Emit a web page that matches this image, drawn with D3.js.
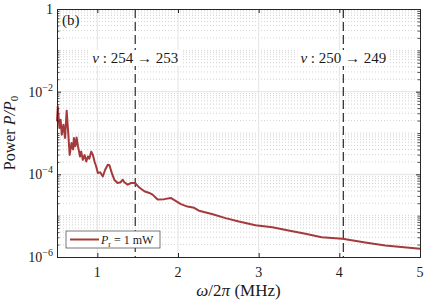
<!DOCTYPE html>
<html>
<head>
<meta charset="utf-8">
<script src="https://cdn.jsdelivr.net/npm/d3@7"></script>
<style>
  body { margin: 0; background: #fff; }
  text { font-family: "Liberation Serif", "DejaVu Serif", serif; fill: #1a1a1a; }
</style>
</head>
<body>
<div class="chart"></div>
<script>
var w = 427,
  h = 303,
  margin = {top: 9, right: 7, bottom: 46, left: 57},
  lineColor = '#a43a3b';

// frequency (MHz) and log10 of P/P0
var freq = [0.5, 0.51, 0.53, 0.545, 0.56, 0.58, 0.6, 0.62, 0.635, 0.657, 0.68, 0.70, 0.71, 0.727,
  0.743, 0.76, 0.785, 0.80, 0.82, 0.842, 0.863, 0.883, 0.9, 0.925, 0.945, 0.965, 0.986, 1.006,
  1.035, 1.068, 1.097, 1.13, 1.15, 1.18, 1.21, 1.25, 1.29, 1.315, 1.335, 1.377, 1.418, 1.468,
  1.52, 1.583, 1.645, 1.685, 1.747, 1.83, 1.91, 1.97, 2.036, 2.118, 2.2, 2.26, 2.42, 2.59,
  2.755, 2.96, 3.17, 3.37, 3.58, 3.78, 4.04, 4.32, 4.57, 5.0];
var logPower = [-2.72, -2.36, -2.88, -2.68, -3.04, -2.80, -3.12, -2.46, -2.88, -3.53, -3.24, -3.40, -3.12, -3.32,
  -3.11, -3.32, -3.57, -3.45, -3.65, -3.53, -3.69, -3.57, -3.62, -3.45, -3.53, -3.69, -3.81, -3.97,
  -3.95, -4.05, -3.89, -3.77, -3.78, -3.97, -4.13, -4.21, -4.19, -4.13, -4.19, -4.25, -4.21, -4.21,
  -4.32, -4.41, -4.45, -4.49, -4.61, -4.60, -4.57, -4.64, -4.72, -4.78, -4.81, -4.88, -4.96, -5.06,
  -5.14, -5.23, -5.28, -5.36, -5.44, -5.52, -5.56, -5.65, -5.72, -5.80];

var xTicks = [1, 2, 3, 4, 5];
var yTicks = [1e-6, 1e-4, 1e-2, 1];
var yTickExp = ['\u22126', '\u22124', '\u22122', ''];
var transitions = [
  {x: 1.47, from: 254, to: 253},
  {x: 4.05, from: 250, to: 249}
];

var iw = w - margin.left - margin.right,
  ih = h - margin.top - margin.bottom;

var x = d3.scaleLinear().domain([0.5, 5]).range([0, iw]);
var y = d3.scaleLog().domain([1e-6, 1]).range([ih, 0]);

var svg = d3.select('.chart').append('svg')
  .attr('width', w)
  .attr('height', h);

var g = svg.append('g').attr('transform', 'translate(' + margin.left + ',' + margin.top + ')');

// minor y values: k*10^n, not on major ticks
var minorY = [];
for (var n = -6; n < 0; n++) {
  for (var k = 1; k < 10; k++) {
    var v = k * Math.pow(10, n);
    if (!(k === 1 && n % 2 === 0)) minorY.push(v);
  }
}

// minor grid
g.append('g').selectAll('line')
  .data(minorY)
  .enter().append('line')
  .attr('x1', 0).attr('x2', iw)
  .attr('y1', function (d) { return y(d); })
  .attr('y2', function (d) { return y(d); })
  .attr('stroke', '#c8c8c8')
  .attr('stroke-width', 0.8)
  .attr('stroke-dasharray', '1,2');

// major grid
g.append('g').selectAll('line')
  .data(yTicks.slice(1, 3))
  .enter().append('line')
  .attr('x1', 0).attr('x2', iw)
  .attr('y1', function (d) { return y(d); })
  .attr('y2', function (d) { return y(d); })
  .attr('stroke', '#e4e4e4')
  .attr('stroke-width', 1);

g.append('g').selectAll('line')
  .data(xTicks.slice(0, 4))
  .enter().append('line')
  .attr('y1', 0).attr('y2', ih)
  .attr('x1', function (d) { return x(d); })
  .attr('x2', function (d) { return x(d); })
  .attr('stroke', '#e4e4e4')
  .attr('stroke-width', 1);

// dashed transition markers
g.append('g').selectAll('line')
  .data(transitions)
  .enter().append('line')
  .attr('y1', 0).attr('y2', ih)
  .attr('x1', function (d) { return x(d.x); })
  .attr('x2', function (d) { return x(d.x); })
  .attr('stroke', '#3a3a3a')
  .attr('stroke-width', 1.3)
  .attr('stroke-dasharray', '9,4');

// the curve
var pts = freq.map(function (f, i) { return [f, Math.pow(10, logPower[i])]; });
g.append('path')
  .datum(pts)
  .attr('fill', 'none')
  .attr('stroke', lineColor)
  .attr('stroke-width', 2)
  .attr('stroke-linejoin', 'round')
  .attr('d', d3.line()
    .x(function (d) { return x(d[0]); })
    .y(function (d) { return y(d[1]); }));

// axes with inward ticks
var axisColor = '#262626';
var ax = [
  d3.axisBottom(x).tickValues(xTicks).tickSize(-4).tickFormat(''),
  d3.axisTop(x).tickValues(xTicks).tickSize(-4).tickFormat(''),
  d3.axisLeft(y).tickValues(yTicks).tickSize(-4).tickFormat(''),
  d3.axisRight(y).tickValues(yTicks).tickSize(-4).tickFormat('')
];
var tr = ['translate(0,' + ih + ')', null, null, 'translate(' + iw + ',0)'];
ax.forEach(function (a, i) {
  var ag = g.append('g').attr('transform', tr[i]).call(a);
  ag.select('.domain').attr('stroke', axisColor);
  ag.selectAll('.tick line').attr('stroke', axisColor);
});
// minor ticks on y
[d3.axisLeft(y), d3.axisRight(y)].forEach(function (a, i) {
  var ag = g.append('g').attr('transform', i ? 'translate(' + iw + ',0)' : null)
    .call(a.tickValues(minorY).tickSize(-2.5).tickFormat(''));
  ag.select('.domain').remove();
  ag.selectAll('.tick line').attr('stroke', axisColor).attr('stroke-width', 0.8);
});

// tick labels
g.append('g').selectAll('text')
  .data(xTicks)
  .enter().append('text')
  .attr('x', function (d) { return x(d); })
  .attr('y', ih + 20)
  .attr('text-anchor', 'middle')
  .attr('font-size', 14)
  .text(function (d) { return d; });

var yl = g.append('g').selectAll('text')
  .data(yTicks)
  .enter().append('text')
  .attr('x', -4)
  .attr('y', function (d) { return y(d) + 5; })
  .attr('text-anchor', 'end')
  .attr('font-size', 14);
yl.append('tspan').text(function (d) { return d === 1 ? '1' : '10'; });
yl.append('tspan')
  .attr('dy', -6)
  .attr('font-size', 10)
  .text(function (d, i) { return yTickExp[i]; });

// axis labels
var xl = svg.append('text')
  .attr('x', margin.left + iw / 2)
  .attr('y', 296)
  .attr('text-anchor', 'middle')
  .attr('font-size', 17);
xl.append('tspan').attr('font-style', 'italic').text('\u03c9');
xl.append('tspan').text('/2');
xl.append('tspan').attr('font-style', 'italic').text('\u03c0');
xl.append('tspan').text(' (MHz)');

var ylab = svg.append('text')
  .attr('transform', 'translate(15,' + (margin.top + ih / 2) + ') rotate(-90)')
  .attr('text-anchor', 'middle')
  .attr('font-size', 16);
ylab.append('tspan').text('Power ');
ylab.append('tspan').attr('font-style', 'italic').text('P/P');
ylab.append('tspan').attr('font-size', 11).attr('dy', 3).text('0');

// panel label
g.append('text')
  .attr('x', 5).attr('y', 16)
  .attr('font-size', 15)
  .text('(b)');

// transition labels with white backing
var tg = g.append('g').selectAll('g')
  .data(transitions)
  .enter().append('g');
var bg = tg.append('rect').attr('fill', '#fff');
var tl = tg.append('text')
  .attr('x', function (d) { return x(d.x); })
  .attr('y', 54)
  .attr('text-anchor', 'middle')
  .attr('font-size', 15);
tl.append('tspan').attr('font-style', 'italic').text('\u03bd');
tl.append('tspan').text(function (d) { return ' : ' + d.from + ' \u2192 ' + d.to; });
tl.each(function (d, i) {
  var b = this.getBBox();
  d3.select(bg.nodes()[i])
    .attr('x', b.x - 3).attr('y', b.y)
    .attr('width', b.width + 6).attr('height', b.height);
});

// legend
var lg = g.append('g').attr('transform', 'translate(9,222)');
lg.append('rect')
  .attr('width', 94).attr('height', 17)
  .attr('fill', '#fff')
  .attr('stroke', '#555')
  .attr('stroke-width', 0.8);
lg.append('line')
  .attr('x1', 4).attr('x2', 33)
  .attr('y1', 8.5).attr('y2', 8.5)
  .attr('stroke', lineColor)
  .attr('stroke-width', 2);
var lt = lg.append('text').attr('x', 35).attr('y', 13).attr('font-size', 12);
lt.append('tspan').attr('font-style', 'italic').text('P');
lt.append('tspan').attr('font-size', 8).attr('dy', 3).text('r');
lt.append('tspan').attr('dy', -3).text(' = 1 mW');
</script>
</body>
</html>
